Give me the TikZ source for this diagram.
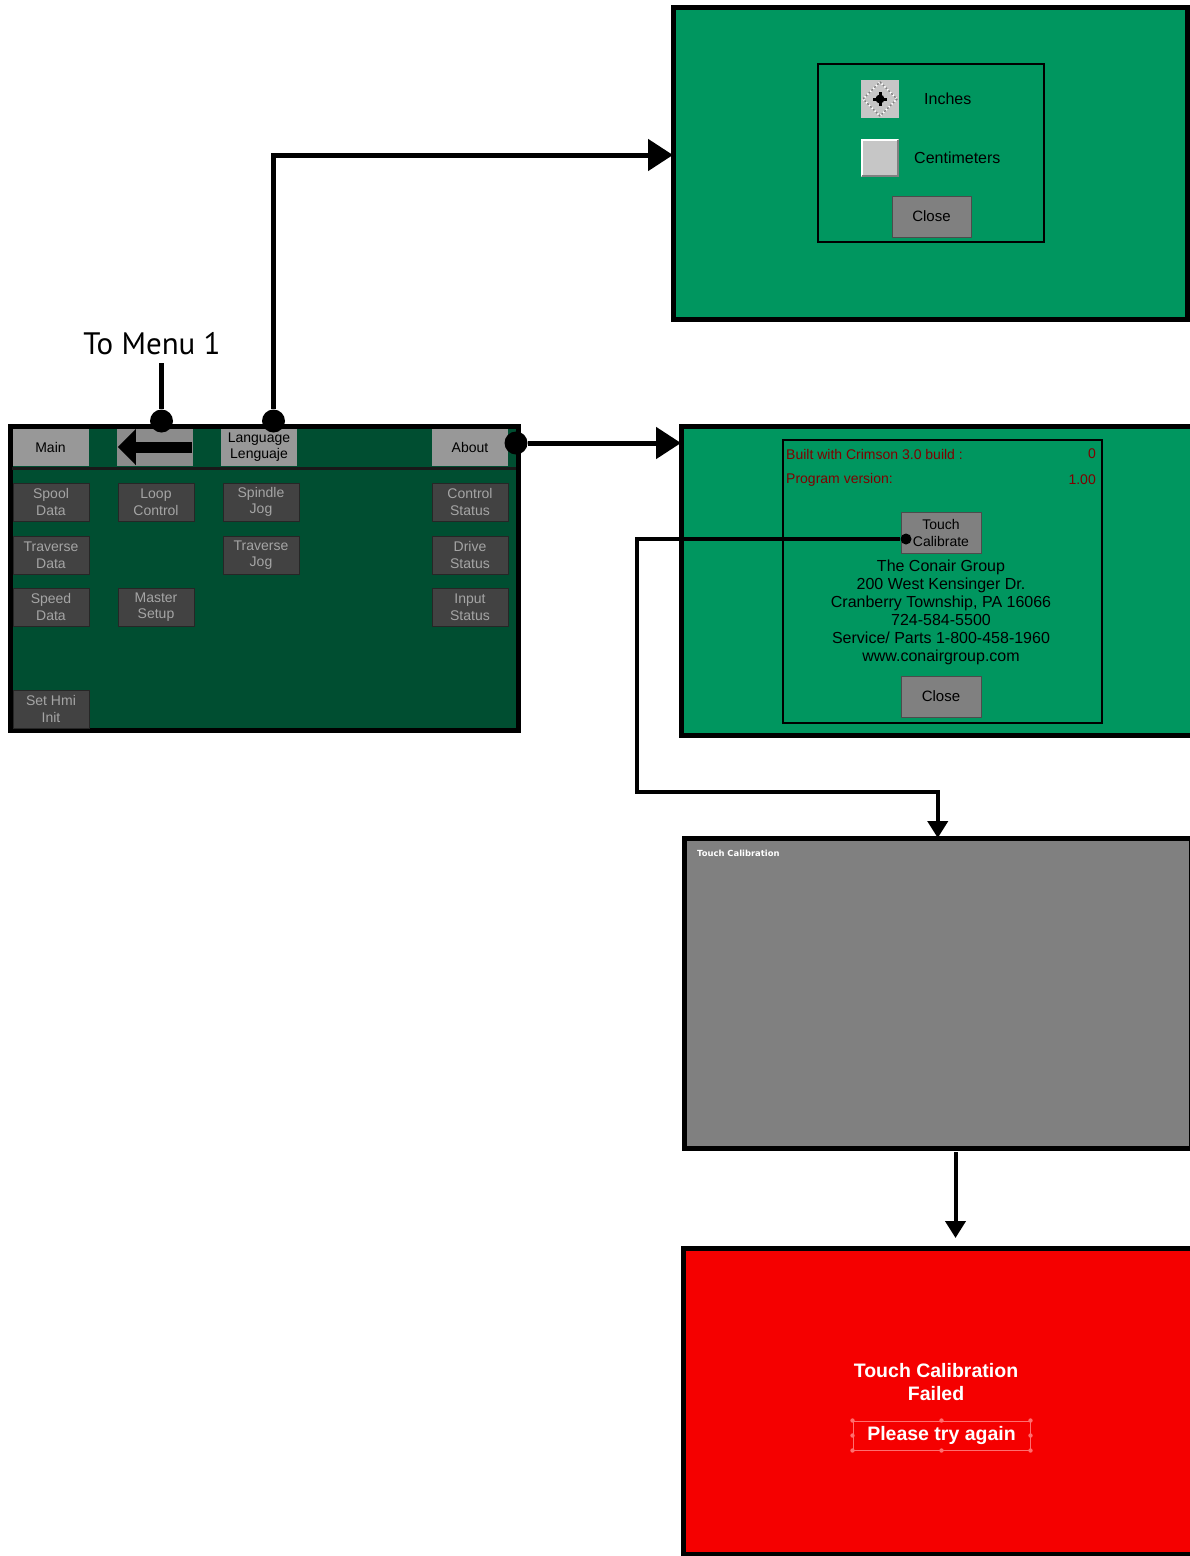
\documentclass[tikz,border=0pt]{standalone}
\usepackage{fontspec}
\setmainfont{Liberation Sans}
\newfontfamily\notefont{PT Sans}
\newfontfamily\hmifont{DejaVu Sans}
\definecolor{hmidark}{RGB}{0, 78, 49}
\definecolor{hmigreen}{RGB}{0, 150, 95}
\definecolor{hmigray}{RGB}{128, 128, 128}
\definecolor{btnlight}{RGB}{152, 152, 152}
\definecolor{btndark}{RGB}{66, 66, 66}
\definecolor{btntext}{RGB}{165, 165, 165}
\definecolor{boxgray}{RGB}{198, 198, 198}
\definecolor{failred}{RGB}{245, 0, 0}
\definecolor{buildred}{RGB}{128, 0, 0}
\definecolor{selred}{RGB}{255, 110, 110}
\usetikzlibrary{arrows.meta, positioning}

\begin{document}
\begin{tikzpicture}[
    x=1pt, y=-1pt,
    node distance=14pt and 28pt,
    screen/.style={draw=black, line width=5pt, fill=#1, inner sep=0pt, outer sep=0pt, anchor=north west},
    inbox/.style={draw=black, line width=2pt, inner sep=0pt, outer sep=0pt, anchor=north west},
    topbtn/.style={fill=btnlight, minimum width=76pt, minimum height=37pt, inner sep=0pt, align=center, font=\fontsize{14}{16.5}\selectfont},
    btn/.style={fill=btndark, draw=black!85, line width=1pt, text=btntext, minimum width=76pt, minimum height=38pt, inner sep=0pt, align=center, font=\fontsize{14}{16.5}\selectfont},
    closebtn/.style={fill=hmigray, draw=black!70, line width=1pt, minimum width=79pt, minimum height=41pt, inner sep=0pt, align=center, font=\fontsize{15}{17}\selectfont},
    joint/.style={circle, fill=black, inner sep=0pt, minimum size=#1},
    joint/.default=23pt,
    wire/.style={line width=5pt, -{Triangle[length=25pt, width=31pt]}},
    thinwire/.style={line width=4pt, -{Triangle[length=17pt, width=20pt]}},
    txt/.style={inner sep=0pt, font=\fontsize{16}{18}\selectfont},
    redtxt/.style={inner sep=0pt, text=buildred, font=\fontsize{14}{16}\selectfont},
  ]
  \useasboundingbox (0,0) rectangle (1190,1556);
  \clip (0,0) rectangle (1190,1556);

  % Main menu screen
  \node[screen=hmidark, minimum width=508pt, minimum height=304pt] (menu) at (10,426) {};
  \draw[line width=3pt, black!90] (12,468.5) -- (516,468.5);

  \node[topbtn] (mainbtn) at (50.5,447) {Main};
  \node[topbtn, fill=btnlight!92!black] (back) at (155,447) {};
  \node[topbtn] (lang) at (259,447) {Language\\Lenguaje};
  \node[topbtn] (about) at (470,447) {About};
  \draw[line width=11pt, -{Triangle[length=18pt, width=35pt]}] ([xshift=-1pt]back.east) -- ([xshift=1pt]back.west);

  \node[btn] (spool) at (51,502) {Spool\\Data};
  \node[btn, below=of spool] (travdata) {Traverse\\Data};
  \node[btn, below=13pt of travdata] (speed) {Speed\\Data};
  \node[btn, below=63pt of speed] (sethmi) {Set Hmi\\Init};
  \node[btn, right=of spool] (loop) {Loop\\Control};
  \node[btn] (master) at (loop |- speed) {Master\\Setup};
  \node[btn, right=of loop] (spindle) {Spindle\\Jog};
  \node[btn, below=of spindle] (travjog) {Traverse\\Jog};
  \node[btn] (control) at (470,502) {Control\\Status};
  \node[btn, below=of control] (drive) {Drive\\Status};
  \node[btn, below=13pt of drive] (input) {Input\\Status};

  \node[joint] (dotback) at (161.5,421) {};
  \node[joint] (dotlang) at (273.5,421) {};
  \node[joint] (dotabout) at (516,443) {};
  \node[inner sep=0pt, font=\notefont\fontsize{31}{34}\selectfont] (tomenu) at (152,344) {To Menu 1};

  % Units dialog
  \node[screen=hmigreen, minimum width=514.5pt, minimum height=311.5pt] (units) at (673,7.5) {};
  \node[inbox, minimum width=226pt, minimum height=178pt] (unitsbox) at (818,64) {};
  \node[fill=boxgray, minimum size=38pt, inner sep=0pt] (inchbox) at (880,99) {};
  \draw[white, line width=1.5pt] (inchbox.center) ++(-17,0) -- ++(17,-17) -- ++(17,17) -- ++(-17,17) -- cycle;
  \draw[gray, line width=1.5pt, dash pattern=on 2pt off 2pt] (inchbox.center) ++(-17,0) -- ++(17,-17) -- ++(17,17) -- ++(-17,17) -- cycle;
  \fill[black] (inchbox.center) circle (4.5pt);
  \fill[black] (inchbox.center) ++(-7,-1.5) rectangle ++(14,3);
  \fill[black] (inchbox.center) ++(-1.5,-7) rectangle ++(3,14);
  \node[fill=boxgray, minimum size=38pt, inner sep=0pt] (cmbox) at (880,158) {};
  \draw[white, line width=2.5pt] ([xshift=1pt, yshift=1pt]cmbox.south west) -- ([xshift=1pt, yshift=-1pt]cmbox.north west) -- ([xshift=-1pt, yshift=-1pt]cmbox.north east);
  \draw[gray, line width=2.5pt] ([xshift=-1pt, yshift=-1pt]cmbox.north east) -- ([xshift=-1pt, yshift=1pt]cmbox.south east) -- ([xshift=1pt, yshift=1pt]cmbox.south west);
  \node[txt, anchor=west] (inches) at (924,99) {Inches};
  \node[txt, anchor=west] (cm) at (914,158) {Centimeters};
  \node[closebtn] (unitsclose) at (931.5,216.5) {Close};

  % About dialog
  \node[screen=hmigreen, minimum width=516pt, minimum height=309.5pt] (aboutscr) at (681,426) {};
  \node[inbox, minimum width=319pt, minimum height=283pt] (aboutbox) at (783,440) {};
  \node[redtxt, anchor=west] (build) at (786,454) {Built with Crimson 3.0 build :};
  \node[redtxt, anchor=east] (buildno) at (1096,454) {0};
  \node[redtxt, anchor=west] (prog) at (786,480) {Program version:};
  \node[redtxt, anchor=east] (progno) at (1096,480) {1.00};
  \node[closebtn, minimum width=80pt, font=\fontsize{14}{17}\selectfont] (touchbtn) at (941,532.5) {Touch\\Calibrate};
  \node[txt, align=center] (address) at (941,612) {The Conair Group\\200 West Kensinger Dr.\\Cranberry Township, PA 16066\\724-584-5500\\Service/ Parts 1-800-458-1960\\www.conairgroup.com};
  \node[closebtn, minimum width=80pt] (aboutclose) at (941,696.5) {Close};
  \node[joint=11pt] (dottouch) at (906,539) {};

  % Touch calibration
  \node[screen=hmigray, minimum width=506.5pt, minimum height=310.5pt] (touchcal) at (684.5,838) {};
  \node[inner sep=0pt, anchor=west, text=white, font=\hmifont\bfseries\fontsize{8.4}{10}\selectfont] (caltitle) at (697,853) {Touch Calibration};

  % Failed
  \node[screen=failred, minimum width=520pt, minimum height=306pt] (failed) at (683,1248) {};
  \node[inner sep=0pt, text=white, align=center, font=\bfseries\fontsize{19.5}{23}\selectfont] (failmsg) at (936,1382.5) {Touch Calibration\\Failed};
  \node[draw=selred, line width=1pt, minimum width=177pt, minimum height=29pt, inner sep=0pt, text=white, font=\bfseries\fontsize{19.5}{23}\selectfont] (retry) at (941.5,1435.5) {Please try again};
  \foreach \a in {north west, north, north east, east, south east, south, south west, west}
    \fill[selred] (retry.\a) circle (2.2pt);

  % Connectors
  \draw[line width=5pt, shorten <=8pt] (dotback |- tomenu.south) -- (dotback);
  \coordinate (langbend) at (273.5,155);
  \draw[wire] (dotlang) -- (langbend) -- (langbend -| units.west);
  \draw[wire] (dotabout) -- (dotabout -| aboutscr.west);
  \coordinate (calbend) at (637,792);
  \draw[thinwire] (dottouch) -| (calbend) -| (touchcal.north);
  \coordinate (drop) at (955.5,1152);
  \draw[thinwire, shorten >=10pt] (drop) -- (drop |- failed.north);

\end{tikzpicture}
\end{document}
